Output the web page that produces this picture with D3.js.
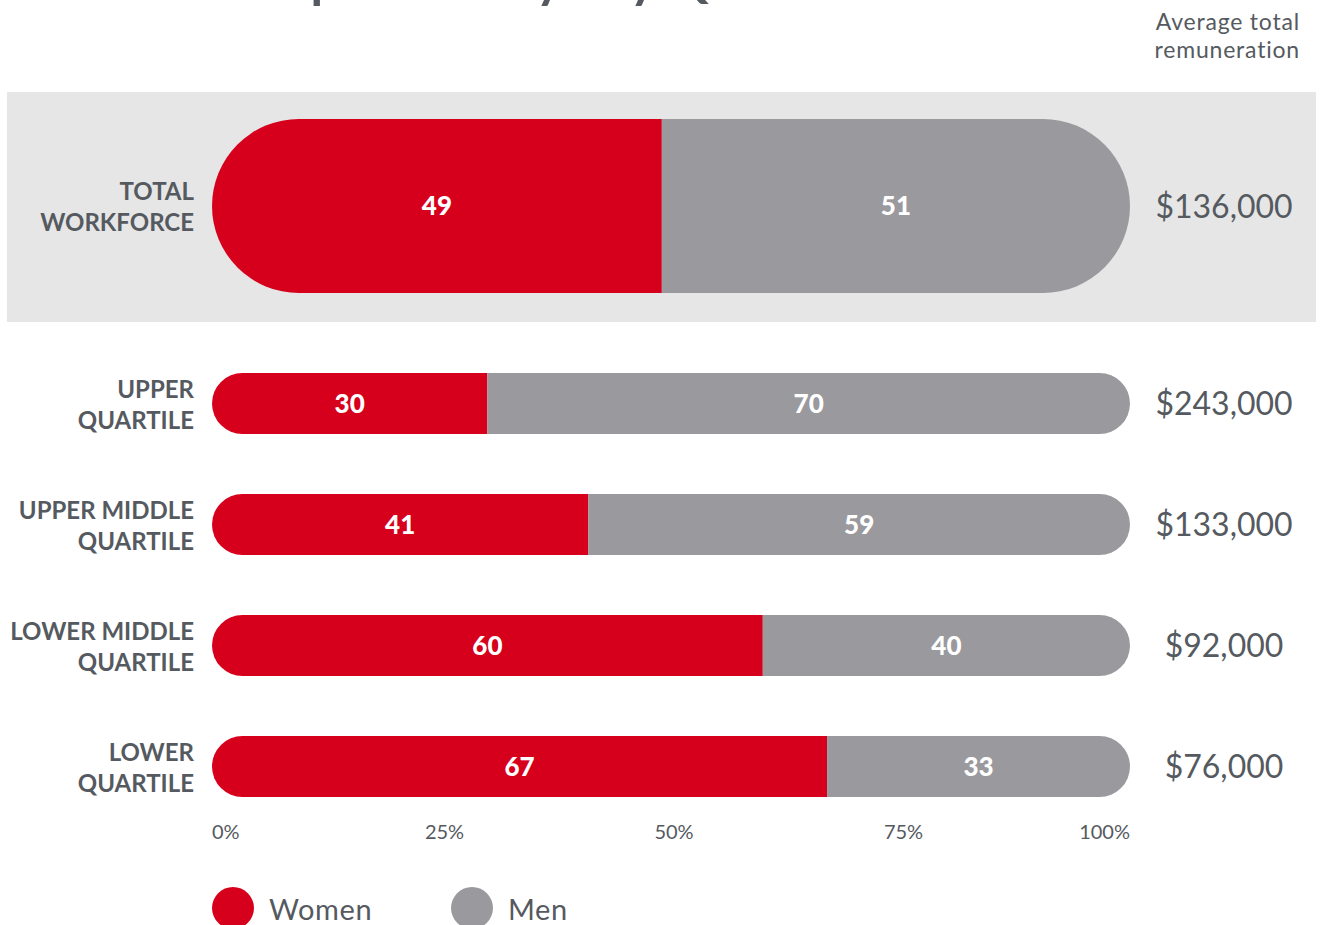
<!DOCTYPE html>
<html>
<head>
<meta charset="utf-8">
<script src="https://cdn.jsdelivr.net/npm/d3@7.9.0/dist/d3.min.js"></script>
<style>
  body { margin: 0; background: #fff; }
  svg { display: block; font-family: Lato, "Open Sans", sans-serif; }
</style>
</head>
<body>
<svg id="chart" width="1320" height="925"></svg>
<script>
// data
const groups = [
  ['TOTAL', 'WORKFORCE'],
  ['UPPER', 'QUARTILE'],
  ['UPPER MIDDLE', 'QUARTILE'],
  ['LOWER MIDDLE', 'QUARTILE'],
  ['LOWER', 'QUARTILE']
];
const women = [49, 30, 41, 60, 67];
const men = [51, 70, 59, 40, 33];
const pay = ['$136,000', '$243,000', '$133,000', '$92,000', '$76,000'];
const ticks = [0, 25, 50, 75, 100];
const series = ['Women', 'Men'];

const RED = '#d6001c', GREY = '#9a999e', TEXT = '#555a60';
const colors = d3.scaleOrdinal().domain(series).range([RED, GREY]);

const svg = d3.select('#chart');

const x = d3.scaleLinear().domain([0, 100]).range([212, 1130]);
// row centres: first row is the big one, the rest share a point scale
const yRows = d3.scalePoint().domain(d3.range(1, groups.length)).range([403.5, 766.5]);
const rowY = i => i === 0 ? 206 : yRows(i);
const rowH = i => i === 0 ? 174 : 61;

// title, mostly off the top of the picture
svg.append('text')
  .attr('x', 26).attr('y', -3)
  .attr('font-size', 51).attr('font-weight', 700)
  .attr('fill', TEXT)
  .text('Gender Composition by Pay Quartile');

// header for right column
svg.append('text')
  .attr('text-anchor', 'end')
  .attr('font-size', 23).attr('fill', TEXT)
  .attr('letter-spacing', 0.8)
  .selectAll('tspan')
  .data(['Average total', 'remuneration'])
  .join('tspan')
    .attr('x', 1300)
    .attr('y', (_, i) => 30 + i * 28)
    .text(d => d);

// grey band behind total workforce
svg.append('rect')
  .attr('x', 7).attr('y', 92)
  .attr('width', 1309).attr('height', 230)
  .attr('fill', '#e6e6e6');

const defs = svg.append('defs');

const rows = svg.selectAll('g.row')
  .data(groups.map((g, i) => ({ label: g, w: women[i], m: men[i], pay: pay[i], i })))
  .join('g')
    .attr('class', 'row');

rows.each(function (d) {
  const g = d3.select(this);
  const cy = rowY(d.i), h = rowH(d.i);
  const top = cy - h / 2;

  defs.append('clipPath')
    .attr('id', `clip${d.i}`)
    .append('rect')
      .attr('x', x(0)).attr('y', top)
      .attr('width', x(100) - x(0)).attr('height', h)
      .attr('rx', h / 2).attr('ry', h / 2);

  const segs = [
    { key: 'Women', v: d.w, x0: 0 },
    { key: 'Men', v: d.m, x0: d.w }
  ];

  const bar = g.append('g').attr('clip-path', `url(#clip${d.i})`);
  bar.selectAll('rect')
    .data(segs)
    .join('rect')
      .attr('x', s => x(s.x0))
      .attr('y', top)
      .attr('width', s => x(s.x0 + s.v) - x(s.x0))
      .attr('height', h)
      .attr('fill', s => colors(s.key));

  g.selectAll('text.val')
    .data(segs)
    .join('text')
      .attr('class', 'val')
      .attr('x', s => (x(s.x0) + x(s.x0 + s.v)) / 2)
      .attr('y', cy)
      .attr('dy', '0.36em')
      .attr('text-anchor', 'middle')
      .attr('font-size', 26).attr('font-weight', 900)
      .attr('fill', '#fff')
      .text(s => s.v);

  // row label, two lines
  g.append('text')
    .attr('text-anchor', 'end')
    .attr('font-size', 24).attr('font-weight', 700)
    .attr('fill', TEXT)
    .selectAll('tspan')
    .data(d.label)
    .join('tspan')
      .attr('x', 194)
      .attr('y', (_, k) => cy - 6 + k * 31)
      .text(t => t);

  // average pay
  g.append('text')
    .attr('x', 1224).attr('y', cy)
    .attr('dy', '0.36em')
    .attr('text-anchor', 'middle')
    .attr('font-size', 32).attr('font-weight', 400)
    .attr('fill', TEXT)
    .text(d.pay);
});

// percent axis
const last = ticks.length - 1;
svg.append('g')
  .selectAll('text')
  .data(ticks)
  .join('text')
    .attr('x', (t, i) => i === 0 || i === last ? x(t) : x(t) + 3)
    .attr('y', 839)
    .attr('text-anchor', (_, i) => i === 0 ? 'start' : i === last ? 'end' : 'middle')
    .attr('font-size', 20)
    .attr('fill', TEXT)
    .text(t => t + '%');

// legend
const legend = svg.append('g')
  .selectAll('g')
  .data(series)
  .join('g')
    .attr('transform', (_, i) => `translate(${233 + i * 239},908)`);

legend.append('circle')
  .attr('r', 21)
  .attr('fill', d => colors(d));

legend.append('text')
  .attr('x', 36).attr('y', 2)
  .attr('dy', '0.36em')
  .attr('font-size', 29)
  .attr('letter-spacing', 0.6)
  .attr('fill', TEXT)
  .text(d => d);
</script>
</body>
</html>
